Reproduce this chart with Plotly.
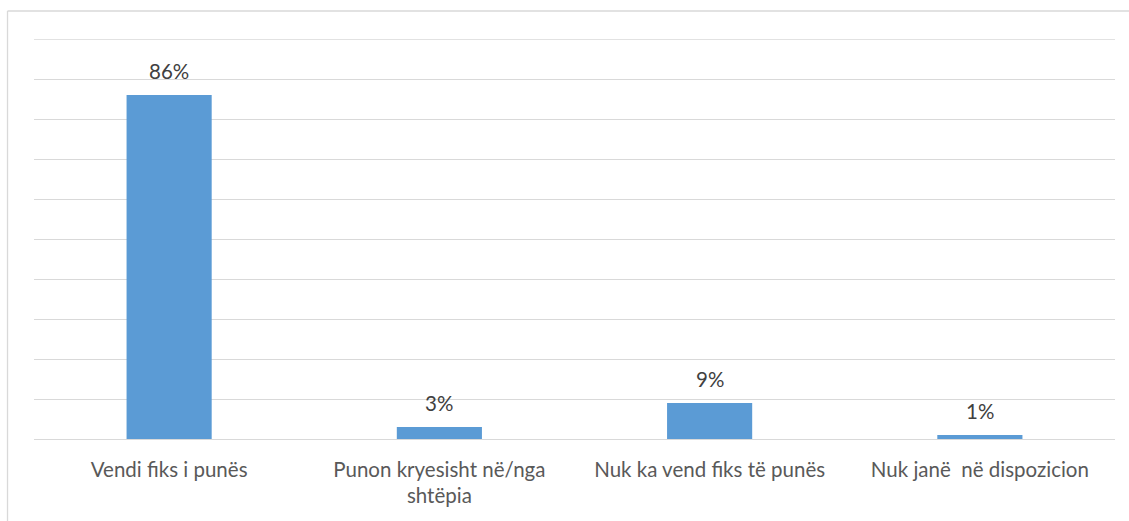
import plotly.graph_objects as go

# Shares of respondents by place of work
categories = [
    "Vendi fiks i punës",
    "Punon kryesisht në/nga<br>shtëpia",
    "Nuk ka vend fiks të punës",
    "Nuk janë \u00a0në dispozicion",
]
values = [86, 3, 9, 1]
value_labels = ["86%", "3%", "9%", "1%"]
grid_values = list(range(0, 101, 10))

BAR_COLOR = "#5b9bd5"
GRID_COLOR = "#d9d9d9"
TEXT_COLOR = "#595959"
LABEL_COLOR = "#404040"
FONT = "Lato, 'Open Sans', sans-serif"
FONT_SIZE = 20.5

fig = go.Figure(
    go.Bar(
        x=categories,
        y=values,
        marker=dict(color=BAR_COLOR, line=dict(width=0)),
        hoverinfo="skip",
    )
)

for cat, val, lab in zip(categories, values, value_labels):
    fig.add_annotation(
        x=cat, y=val, text=lab, showarrow=False,
        yanchor="bottom", yshift=10,
        font=dict(family=FONT, size=FONT_SIZE, color=LABEL_COLOR),
    )

# top gridline sits on the plot edge, so draw it explicitly
fig.add_hline(y=grid_values[-1], line=dict(color=GRID_COLOR, width=1.3), layer="below")

# light frame around the chart (top and left edges visible)
fig.add_shape(type="line", xref="paper", yref="paper",
              x0=-0.0245, x1=1.02, y0=1.07, y1=1.07,
              line=dict(color=GRID_COLOR, width=1.3))
fig.add_shape(type="line", xref="paper", yref="paper",
              x0=-0.0245, x1=-0.0245, y0=1.07, y1=-0.3,
              line=dict(color=GRID_COLOR, width=1.3))

fig.update_layout(
    width=1129, height=521,
    margin=dict(l=34, r=14, t=39, b=82),
    paper_bgcolor="white", plot_bgcolor="white",
    bargap=0.685,
    showlegend=False,
    font=dict(family=FONT, color=TEXT_COLOR),
    xaxis=dict(
        showgrid=False, showline=False, ticks="",
        tickfont=dict(family=FONT, size=FONT_SIZE, color=TEXT_COLOR),
        ticklabelstandoff=16,
    ),
    yaxis=dict(
        range=[0, 100], tickvals=grid_values,
        showticklabels=False,
        showgrid=True, gridcolor=GRID_COLOR, gridwidth=1.3,
        zeroline=True, zerolinecolor=GRID_COLOR, zerolinewidth=1.3,
        showline=False, ticks="",
    ),
)

fig.write_html("out.html")
